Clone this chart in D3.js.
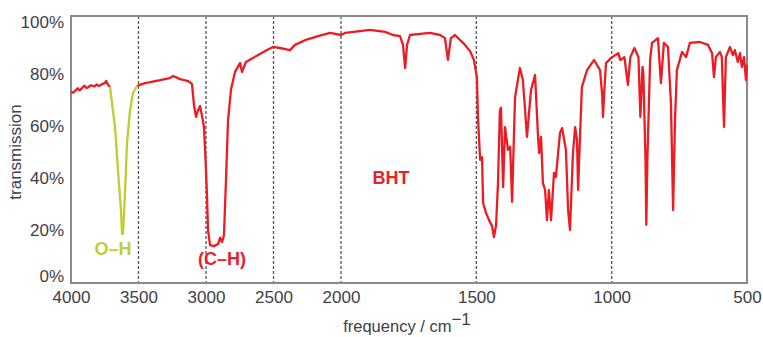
<!DOCTYPE html>
<html><head><meta charset="utf-8">
<script src="https://cdn.jsdelivr.net/npm/d3@7"></script>
<style>
body{margin:0;background:#fff;}
text{font-family:"Liberation Sans",Arial,sans-serif;}
</style></head>
<body><svg id="c" width="763" height="337"></svg>
<script>
// tick values
const xTicks = [4000,3500,3000,2500,2000,1500,1000,500];
const gridTicks = [3500,3000,2500,2000,1500,1000];
const yTicks = [0,20,40,60,80,100];

// spectrum: [frequency cm-1, transmission %]
const redStart = [[4000,73],[3985,72.8],[3970,73.5],[3950,74.5],[3940,73.8],[3930,74],[3915,74.8],[3900,75.5],[3885,74.6],[3870,75],[3855,75.6],[3840,75.5],[3825,75.2],[3810,76],[3795,75.4],[3780,75.8],[3765,76.2],[3750,76.5],[3740,77.3],[3733,76.5],[3720,75.5],[3711,75]];
const ohBand = [[3711,75],[3674,59.6],[3652,43],[3630,27.7],[3622,18.5],[3615,18.5],[3600,34],[3585,53.5],[3563,66],[3541,72.7],[3511,75.4]];
const redMain = [[3511,75.4],[3480,76],[3452,76.5],[3420,76.8],[3378,77.3],[3340,77.6],[3304,78],[3270,78.4],[3244,79.2],[3215,78.6],[3193,78],[3160,77.6],[3133,77.3],[3104,76.2],[3089,68],[3074,63.5],[3059,66],[3044,67.7],[3030,64],[3015,59.6],[3000,43],[2993,33.5],[2985,20],[2970,14.2],[2941,13.8],[2911,14.6],[2896,17],[2881,15.4],[2867,18],[2852,39],[2837,62],[2815,74],[2785,80.8],[2748,84.2],[2733,80.8],[2704,84.6],[2659,86],[2600,87.7],[2548,89.2],[2504,90.4],[2452,90],[2378,89.2],[2341,91.2],[2267,93],[2170,94.6],[2081,95.8],[2000,95],[1985,95.8],[1930,96.5],[1893,97],[1837,96.2],[1808,95],[1782,94.6],[1771,91.2],[1763,82.3],[1756,91.2],[1745,95],[1708,95.4],[1671,95.8],[1634,95],[1616,93.8],[1605,85.4],[1594,93.8],[1579,95],[1549,92],[1523,88.8],[1509,85.4],[1498,78.8],[1494,63.5],[1486,47],[1479,48],[1475,30.4],[1464,26.5],[1453,23.8],[1442,21.5],[1435,17.3],[1427,21.9],[1420,38],[1413,66],[1409,67],[1401,36.5],[1394,59.6],[1383,50.8],[1375,52],[1368,30.8],[1357,71],[1339,82.3],[1328,77.7],[1313,55.8],[1298,73.8],[1283,79.6],[1272,55.8],[1268,49.6],[1261,55.8],[1254,38],[1246,35.4],[1239,23.8],[1232,35.4],[1224,23.8],[1213,42],[1206,40.4],[1191,57.3],[1183,59.2],[1169,50.8],[1161,27.7],[1154,20],[1143,49.6],[1135,59.6],[1128,54.6],[1124,35.4],[1117,55.8],[1110,75],[1091,81.5],[1065,85.4],[1043,81.5],[1035,72],[1032,63.5],[1028,72],[1021,84.2],[1002,86.2],[976,88],[968,85.4],[953,86.5],[940,75.8],[931,86.5],[916,90],[901,86.5],[894,63.5],[886,82.7],[883,80.4],[875,47],[872,22],[868,47],[858,85.4],[851,92],[829,93.8],[818,76.5],[807,92],[792,90.4],[781,68.8],[773,27.7],[766,62.3],[759,81.5],[740,88.5],[725,86.5],[711,92],[674,92.3],[644,91.2],[629,88],[622,78.8],[615,86.5],[600,88.5],[593,86.5],[585,59.6],[578,86.5],[563,90.4],[552,87.3],[545,89.2],[534,84.6],[526,88],[519,82.7],[511,86.5],[504,77.7],[500,83.5]];

const labels = [
  {text:"O–H", f:3689, t:13, color:"#bccf32"},
  {text:"(C–H)", f:2881, t:8.8, color:"#e8202a"},
  {text:"BHT", f:1815, t:40, color:"#e8202a"}
];

const svg = d3.select("#c");
const x = d3.scaleLinear().domain([4000,2000,500]).range([71,341,747]);
const y = d3.scaleLinear().domain([0,100]).range([282,22]);
const frameTop = 16, frameBottom = 283;
const textColor = "#404048";

// gridlines
svg.append("g").selectAll("line").data(gridTicks).join("line")
  .attr("x1",d=>x(d)).attr("x2",d=>x(d)).attr("y1",frameTop).attr("y2",frameBottom)
  .attr("stroke","#555").attr("stroke-width",1.3).attr("stroke-dasharray","3,2");

// frame
svg.append("rect").attr("x",x(4000)).attr("y",frameTop).attr("width",x(500)-x(4000)).attr("height",frameBottom-frameTop)
  .attr("fill","none").attr("stroke","#8a8a8a").attr("stroke-width",2);

// axes
const xAxis = d3.axisBottom(x).tickValues(xTicks).tickSize(0).tickPadding(8).tickFormat(d3.format("d"));
const gx = svg.append("g").attr("transform",`translate(0,${frameBottom})`).call(xAxis);
gx.select(".domain").remove();
gx.selectAll("text").attr("font-size",17).attr("fill",textColor);

const yAxis = d3.axisLeft(y).tickValues(yTicks).tickSize(0).tickPadding(7).tickFormat(d=>d+"%");
const gy = svg.append("g").attr("transform",`translate(${x(4000)},0)`).call(yAxis);
gy.select(".domain").remove();
gy.selectAll("text").attr("font-size",17).attr("fill",textColor)
  .attr("dy",d=>d===0?"-0.05em":"0.32em");

// axis titles
svg.append("text").attr("x",407).attr("y",332).attr("text-anchor","middle")
  .attr("font-size",16.5).attr("fill",textColor)
  .html('frequency / cm<tspan dy="-7" font-size="17">−1</tspan>');
svg.append("text").attr("transform",`translate(21,152) rotate(-90)`)
  .attr("text-anchor","middle").attr("font-size",17).attr("fill",textColor).text("transmission");

// spectrum lines
const line = d3.line().x(d=>x(d[0])).y(d=>y(d[1]));
svg.append("path").datum(redStart).attr("d",line).attr("fill","none").attr("stroke","#ec1c24").attr("stroke-width",2.3).attr("stroke-linejoin","round");
svg.append("path").datum(redMain).attr("d",line).attr("fill","none").attr("stroke","#ec1c24").attr("stroke-width",2.3).attr("stroke-linejoin","round");
svg.append("path").datum(ohBand).attr("d",line).attr("fill","none").attr("stroke","#bccf32").attr("stroke-width",2.3).attr("stroke-linejoin","round");

// labels
svg.append("g").selectAll("text").data(labels).join("text")
  .attr("x",d=>x(d.f)).attr("y",d=>y(d.t)).attr("text-anchor","middle").attr("dy","0.35em")
  .attr("font-size",18).attr("font-weight","bold").attr("fill",d=>d.color).text(d=>d.text);
</script></body></html>
